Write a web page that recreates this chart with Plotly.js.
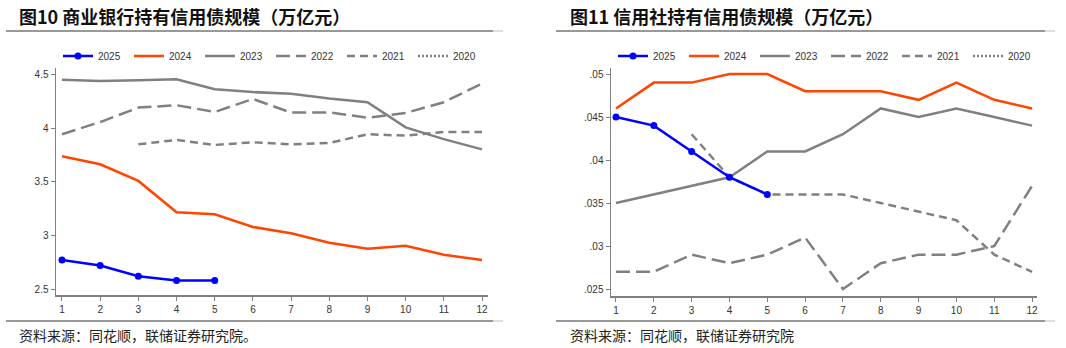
<!DOCTYPE html>
<html><head><meta charset="utf-8">
<script src="https://cdn.plot.ly/plotly-3.0.1.min.js"></script>
<style>html,body{margin:0;padding:0;background:#fff}#c{width:1066px;height:348px}</style>
</head><body><div id="c"></div>
<script>
const months = [1,2,3,4,5,6,7,8,9,10,11,12];
const seriesNames = ['2025','2024','2023','2022','2021','2020'];
// 图10 商业银行 (万亿元)
const bank2025 = [2.77,2.72,2.62,2.58,2.58,null,null,null,null,null,null,null];
const bank2024 = [3.74,3.665,3.51,3.217,3.198,3.08,3.02,2.933,2.877,2.905,2.82,2.77];
const bank2023 = [4.456,4.444,4.45,4.46,4.366,4.34,4.325,4.28,4.245,4.01,3.90,3.805];
const bank2022 = [3.946,4.06,4.195,4.217,4.154,4.276,4.148,4.15,4.10,4.145,4.245,4.42];
const bank2021 = [null,null,3.852,3.893,3.846,3.871,3.852,3.864,3.946,3.933,3.967,3.967];
const bank2020 = [null,null,null,null,null,null,null,null,null,null,null,null];
// 图11 信用社 (万亿元)
const coop2025 = [0.045,0.044,0.041,0.038,0.036,null,null,null,null,null,null,null];
const coop2024 = [0.046,0.049,0.049,0.050,0.050,0.048,0.048,0.048,0.047,0.049,0.047,0.046];
const coop2023 = [0.035,0.036,0.037,0.038,0.041,0.041,0.043,0.046,0.045,0.046,0.045,0.044];
const coop2022 = [0.027,0.027,0.029,0.028,0.029,0.031,0.025,0.028,0.029,0.029,0.030,0.037];
const coop2021 = [null,null,0.043,0.038,0.036,0.036,0.036,0.035,0.034,0.033,0.029,0.027];
const coop2020 = [null,null,null,null,null,null,null,null,null,null,null,null];
const bankTicks = [2.5,3,3.5,4,4.5];
const bankTickText = ['2.5','3','3.5','4','4.5'];
const coopTicks = [0.025,0.03,0.035,0.04,0.045,0.05];
const coopTickText = ['.025','.03','.035','.04','.045','.05'];

const W = 1066, H = 348;
const px = v => v / W, py = v => 1 - v / H;

const styles = [
  {color:'#0000ff', width:2.5, dash:'solid', marker:true},
  {color:'#ff4500', width:2.5, dash:'solid'},
  {color:'#808080', width:2.5, dash:'solid'},
  {color:'#808080', width:2.5, dash:'14px,6px'},
  {color:'#808080', width:2.5, dash:'8px,5px'},
  {color:'#808080', width:2.5, dash:'2px,2px'}
];
function mk(ys, i, xa, ya, lg){
  const s = styles[i];
  return {x: months, y: ys, type:'scatter', mode: s.marker ? 'lines+markers' : 'lines',
    name: seriesNames[i], xaxis: xa, yaxis: ya, legend: lg, legendrank: i + 1, connectgaps:false,
    line:{color:s.color, width:s.width, dash:s.dash},
    marker:{color:s.color, size:7}, hoverinfo:'skip'};
}
const bank = [bank2025,bank2024,bank2023,bank2022,bank2021,bank2020];
const coop = [coop2025,coop2024,coop2023,coop2022,coop2021,coop2020];
const data = [];
for (let i = bank.length - 1; i >= 0; i--) data.push(mk(bank[i],i,'x','y','legend'));
for (let i = coop.length - 1; i >= 0; i--) data.push(mk(coop[i],i,'x2','y2','legend2'));

const axFont = {family:'Arial, Liberation Sans, sans-serif', size:10, color:'#333'};
const xCommon = {tickvals: months, ticktext: months.map(String), showgrid:false, zeroline:false,
  showline:true, linecolor:'#808080', linewidth:1.5, ticks:'outside', ticklen:4, tickcolor:'#808080',
  tickfont: axFont, fixedrange:true};
const yCommon = {showgrid:false, zeroline:false, showline:true, linecolor:'#808080', linewidth:1.5,
  ticks:'outside', ticklen:4, tickcolor:'#808080', tickfont: axFont, fixedrange:true};

const legCommon = {orientation:'h', yanchor:'middle', xanchor:'left', bgcolor:'rgba(0,0,0,0)',
  font:{family:'Arial, Liberation Sans, sans-serif', size:10, color:'#333'},
  entrywidth:26, entrywidthmode:'pixels', itemwidth:30, tracegroupgap:0};

const lineCol = '#333', lightCol = '#bbb';
const shapes = [];
[[6,493,503],[556,1045,1055]].forEach(([a,b,c])=>{
  [31,321].forEach(yy=>{
    shapes.push({type:'line', xref:'paper', yref:'paper', x0:px(a), x1:px(b), y0:py(yy), y1:py(yy), line:{color:lineCol, width:1}});
    shapes.push({type:'line', xref:'paper', yref:'paper', x0:px(b), x1:px(c), y0:py(yy), y1:py(yy), line:{color:lightCol, width:1}});
  });
});

const cjk = '"Noto Sans CJK SC", "Noto Sans", sans-serif';
const annotations = [
  {text:'<b>图10 商业银行持有信用债规模（万亿元）</b>', x:px(17), y:py(16), xref:'paper', yref:'paper', xanchor:'left', yanchor:'middle', showarrow:false, font:{family:cjk, size:18, color:'#111'}},
  {text:'<b>图11 信用社持有信用债规模（万亿元）</b>', x:px(568), y:py(16), xref:'paper', yref:'paper', xanchor:'left', yanchor:'middle', showarrow:false, font:{family:cjk, size:18, color:'#111'}},
  {text:'资料来源：同花顺，联储证券研究院。', x:px(17), y:py(335), xref:'paper', yref:'paper', xanchor:'left', yanchor:'middle', showarrow:false, font:{family:cjk, size:14, color:'#222'}},
  {text:'资料来源：同花顺，联储证券研究院', x:px(568), y:py(335), xref:'paper', yref:'paper', xanchor:'left', yanchor:'middle', showarrow:false, font:{family:cjk, size:14, color:'#222'}}
];

const layout = {
  width: W, height: H, margin:{l:0,r:0,t:0,b:0,pad:0,autoexpand:false}, paper_bgcolor:'#fff', plot_bgcolor:'#fff',
  showlegend:true,
  xaxis: Object.assign({}, xCommon, {domain:[px(56), px(488)], range:[0.843, 12.157], anchor:'y'}),
  yaxis: Object.assign({}, yCommon, {domain:[1-295/H, 1-68/H], range:[2.444, 4.565], tickvals:bankTicks, ticktext:bankTickText, anchor:'x'}),
  xaxis2: Object.assign({}, xCommon, {domain:[px(611), px(1037)], range:[0.868, 12.13], anchor:'y2'}),
  yaxis2: Object.assign({}, yCommon, {domain:[1-296/H, 1-68/H], range:[0.02419, 0.0507], tickvals:coopTicks, ticktext:coopTickText, anchor:'x2'}),
  legend: Object.assign({}, legCommon, {x:px(58), y:py(56)}),
  legend2: Object.assign({}, legCommon, {x:px(613), y:py(56)}),
  shapes: shapes, annotations: annotations
};
Plotly.newPlot('c', data, layout, {staticPlot:true, displayModeBar:false});
</script></body></html>
